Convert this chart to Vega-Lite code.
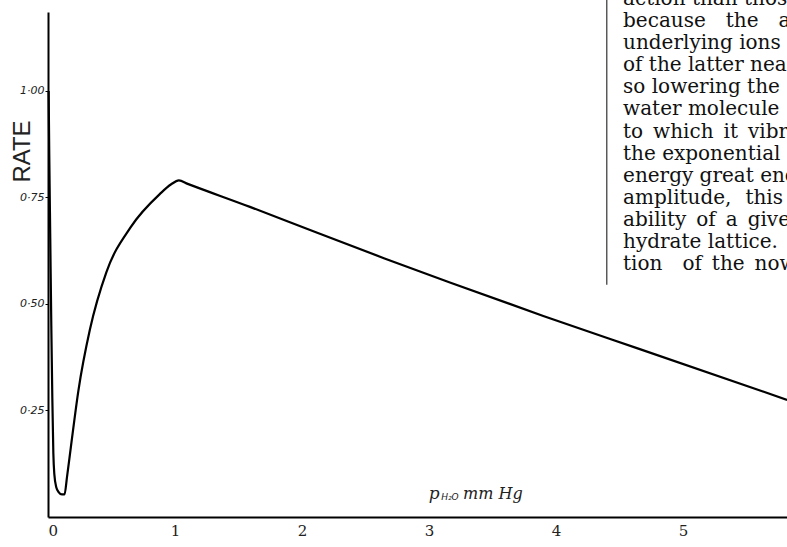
{
  "$schema": "https://vega.github.io/schema/vega-lite/v6.json",
  "width": 739,
  "height": 505,
  "autosize": "none",
  "padding": {"left": 48, "top": 12, "right": 0, "bottom": 30},
  "background": "white",
  "config": {"view": {"stroke": null}},
  "datasets": {
    "curve": [
      {"p": 0.005, "rate": 1.0},
      {"p": 0.01, "rate": 0.85},
      {"p": 0.018, "rate": 0.65},
      {"p": 0.026, "rate": 0.45},
      {"p": 0.034, "rate": 0.28},
      {"p": 0.042, "rate": 0.15},
      {"p": 0.05, "rate": 0.1},
      {"p": 0.065, "rate": 0.07},
      {"p": 0.085, "rate": 0.058},
      {"p": 0.11, "rate": 0.053},
      {"p": 0.13, "rate": 0.053},
      {"p": 0.15, "rate": 0.095},
      {"p": 0.18, "rate": 0.164},
      {"p": 0.24, "rate": 0.298},
      {"p": 0.33, "rate": 0.44},
      {"p": 0.46, "rate": 0.575},
      {"p": 0.65, "rate": 0.68},
      {"p": 0.88, "rate": 0.758},
      {"p": 0.97, "rate": 0.781},
      {"p": 1.03, "rate": 0.79},
      {"p": 1.1, "rate": 0.782},
      {"p": 1.59, "rate": 0.728},
      {"p": 2.12, "rate": 0.667},
      {"p": 2.65, "rate": 0.607},
      {"p": 3.17, "rate": 0.55},
      {"p": 3.9, "rate": 0.472},
      {"p": 4.66, "rate": 0.394},
      {"p": 5.82, "rate": 0.275}
    ]
  },
  "layer": [
    {
      "data": {"name": "curve"},
      "mark": {"type": "line", "color": "black", "strokeWidth": 2.2, "interpolate": "monotone", "clip": false},
      "encoding": {
        "x": {
          "field": "p", "type": "quantitative",
          "scale": {"domain": [0, 5.819], "nice": false, "zero": false},
          "axis": {
            "values": [0, 1, 2, 3, 4, 5], "format": "d", "title": null, "grid": false,
            "ticks": false, "domainWidth": 2, "domainColor": "black",
            "labelFont": "DejaVu Serif", "labelFontSize": 15, "labelColor": "#222", "labelPadding": 6
          }
        },
        "y": {
          "field": "rate", "type": "quantitative",
          "scale": {"domain": [0, 1.1854], "nice": false, "zero": false},
          "axis": {
            "values": [0.25, 0.5, 0.75, 1.0],
            "labelExpr": "replace(format(datum.value, '.2f'), '.', '·')",
            "grid": false, "ticks": true, "tickSize": 3, "tickColor": "black",
            "domainWidth": 2, "domainColor": "black",
            "labelFont": "DejaVu Sans", "labelFontStyle": "italic", "labelFontSize": 11,
            "labelColor": "#222", "labelPadding": 1,
            "title": "RATE", "titleFont": "Liberation Sans", "titleFontSize": 24,
            "titleFontWeight": "normal", "titleColor": "#222", "titleAngle": 270,
            "titleX": -26, "titleY": 139, "titleAlign": "center", "titleBaseline": "middle"
          }
        }
      }
    },
    {
      "data": {"values": [{}]},
      "mark": {"type": "rule", "color": "#333", "strokeWidth": 1.2, "clip": false},
      "encoding": {
        "x": {"datum": 4.4, "type": "quantitative"},
        "y": {"datum": 1.2136, "type": "quantitative"},
        "y2": {"datum": 0.545}
      }
    },
    {
      "data": {"values": [{}]},
      "mark": {
        "type": "text", "align": "left", "baseline": "alphabetic", "clip": false,
        "font": "DejaVu Serif", "fontSize": 20, "lineHeight": 22.1, "color": "#111",
        "text": [
          "action than those",
          "because\u2003the\u2003ab",
          "underlying ions",
          "of the latter near",
          "so lowering the",
          "water molecule",
          "to\u2002which\u2002it\u2002vibrates",
          "the exponential",
          "energy great enough",
          "amplitude,\u2002\u2009this",
          "ability\u2002of\u2002a\u2002given",
          "hydrate lattice.",
          "tion\u2003of\u2002the\u2002now"
        ]
      },
      "encoding": {
        "x": {"datum": 4.528, "type": "quantitative"},
        "y": {"datum": 1.2019, "type": "quantitative"}
      }
    },
    {
      "data": {"values": [{}]},
      "mark": {"type": "text", "align": "center", "baseline": "middle", "font": "DejaVu Serif", "fontStyle": "italic", "fontSize": 17, "color": "#222"},
      "encoding": {
        "x": {"datum": 3.04, "type": "quantitative"},
        "y": {"datum": 0.055, "type": "quantitative"},
        "text": {"value": "p"}
      }
    },
    {
      "data": {"values": [{}]},
      "mark": {"type": "text", "align": "center", "baseline": "middle", "font": "DejaVu Sans", "fontStyle": "italic", "fontSize": 9, "color": "#222"},
      "encoding": {
        "x": {"datum": 3.165, "type": "quantitative"},
        "y": {"datum": 0.047, "type": "quantitative"},
        "text": {"value": "H₂O"}
      }
    },
    {
      "data": {"values": [{}]},
      "mark": {"type": "text", "align": "left", "baseline": "middle", "font": "DejaVu Serif", "fontStyle": "italic", "fontSize": 16, "color": "#222"},
      "encoding": {
        "x": {"datum": 3.268, "type": "quantitative"},
        "y": {"datum": 0.055, "type": "quantitative"},
        "text": {"value": "mm Hg"}
      }
    }
  ]
}
